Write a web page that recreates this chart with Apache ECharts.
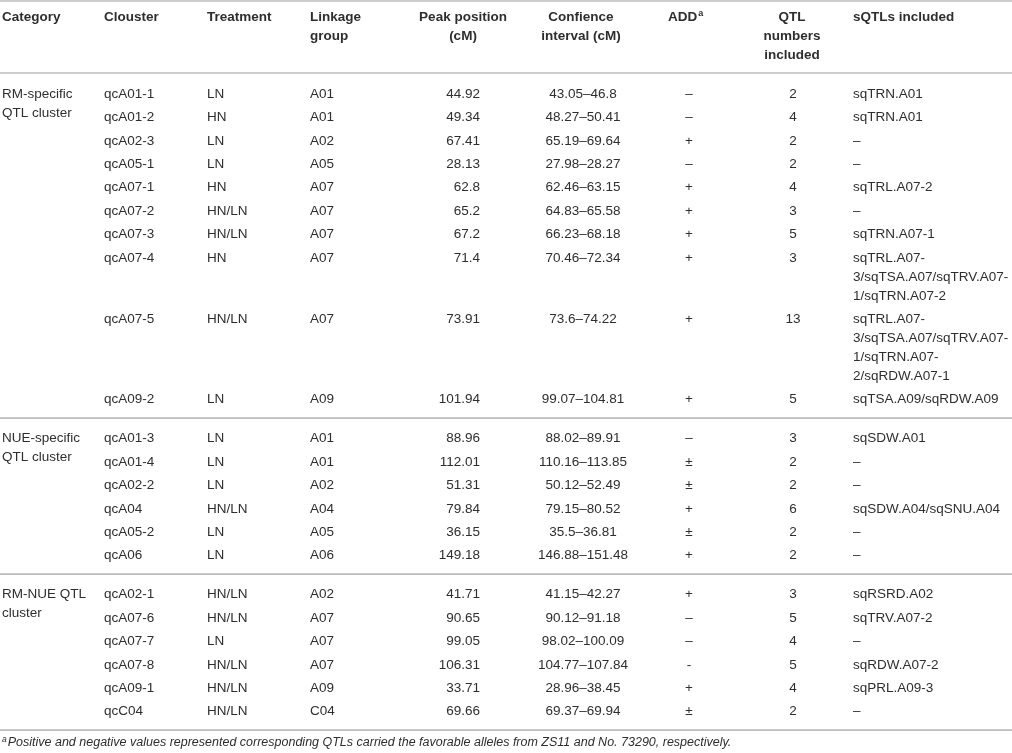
<!DOCTYPE html>
<html>
<head>
<meta charset="utf-8">
<script src="https://cdn.jsdelivr.net/npm/echarts@6/dist/echarts.min.js"></script>
<style>
  html, body { margin: 0; padding: 0; background: #fff; }
  #main { width: 1012px; height: 753px; }
</style>
</head>
<body>
<div id="main"></div>
<script>
// table content
const headers = ['Category', 'Clouster', 'Treatment', 'Linkage\ngroup', 'Peak position\n(cM)',
                 'Confience\ninterval (cM)', 'ADD', 'QTL\nnumbers\nincluded', 'sQTLs included'];
const categories = ['RM-specific\nQTL cluster', 'NUE-specific\nQTL cluster', 'RM-NUE QTL\ncluster'];
const sectionSizes = [10, 6, 6];
const clusters = ['qcA01-1', 'qcA01-2', 'qcA02-3', 'qcA05-1', 'qcA07-1', 'qcA07-2', 'qcA07-3', 'qcA07-4', 'qcA07-5', 'qcA09-2',
                  'qcA01-3', 'qcA01-4', 'qcA02-2', 'qcA04', 'qcA05-2', 'qcA06',
                  'qcA02-1', 'qcA07-6', 'qcA07-7', 'qcA07-8', 'qcA09-1', 'qcC04'];
const treatments = ['LN', 'HN', 'LN', 'LN', 'HN', 'HN/LN', 'HN/LN', 'HN', 'HN/LN', 'LN',
                    'LN', 'LN', 'LN', 'HN/LN', 'LN', 'LN',
                    'HN/LN', 'HN/LN', 'LN', 'HN/LN', 'HN/LN', 'HN/LN'];
const linkageGroups = ['A01', 'A01', 'A02', 'A05', 'A07', 'A07', 'A07', 'A07', 'A07', 'A09',
                       'A01', 'A01', 'A02', 'A04', 'A05', 'A06',
                       'A02', 'A07', 'A07', 'A07', 'A09', 'C04'];
const peakPositions = [44.92, 49.34, 67.41, 28.13, 62.8, 65.2, 67.2, 71.4, 73.91, 101.94,
                       88.96, 112.01, 51.31, 79.84, 36.15, 149.18,
                       41.71, 90.65, 99.05, 106.31, 33.71, 69.66];
const ciLow = [43.05, 48.27, 65.19, 27.98, 62.46, 64.83, 66.23, 70.46, 73.6, 99.07,
               88.02, 110.16, 50.12, 79.15, 35.5, 146.88,
               41.15, 90.12, 98.02, 104.77, 28.96, 69.37];
const ciHigh = [46.8, 50.41, 69.64, 28.27, 63.15, 65.58, 68.18, 72.34, 74.22, 104.81,
                89.91, 113.85, 52.49, 80.52, 36.81, 151.48,
                42.27, 91.18, 100.09, 107.84, 38.45, 69.94];
const addEffects = ['–', '–', '+', '–', '+', '+', '+', '+', '+', '+',
                    '–', '±', '±', '+', '±', '+',
                    '+', '–', '–', '-', '+', '±'];
const qtlNumbers = [2, 4, 2, 2, 4, 3, 5, 3, 13, 5,
                    3, 2, 2, 6, 2, 2,
                    3, 5, 4, 5, 4, 2];
const sqtls = ['sqTRN.A01', 'sqTRN.A01', '–', '–', 'sqTRL.A07-2', '–', 'sqTRN.A07-1',
               'sqTRL.A07-\n3/sqTSA.A07/sqTRV.A07-\n1/sqTRN.A07-2',
               'sqTRL.A07-\n3/sqTSA.A07/sqTRV.A07-\n1/sqTRN.A07-\n2/sqRDW.A07-1',
               'sqTSA.A09/sqRDW.A09',
               'sqSDW.A01', '–', '–', 'sqSDW.A04/sqSNU.A04', '–', '–',
               'sqRSRD.A02', 'sqTRV.A07-2', '–', 'sqRDW.A07-2', 'sqPRL.A09-3', '–'];
const footnote = 'Positive and negative values represented corresponding QTLs carried the favorable alleles from ZS11 and No. 73290, respectively.';

// layout
const W = 1012, H = 753;
const FONT = '"Liberation Sans", Arial, Helvetica, sans-serif';
const FS = 13.5;
const LINE_H = 19;
const ROW_STEP = 23.4;
const HEADER_Y = 17;
const FIRST_ROW = 94;
const columns = [
  { x: 2,   align: 'left' },    // category
  { x: 104, align: 'left' },    // cluster
  { x: 207, align: 'left' },    // treatment
  { x: 310, align: 'left' },    // linkage
  { x: 480, align: 'right', hx: 463, halign: 'center' },  // peak
  { x: 583, align: 'center', hx: 581 },                   // ci
  { x: 689, align: 'center', hx: 668, halign: 'left' },   // add
  { x: 793, align: 'center', hx: 792 },                   // qtl numbers
  { x: 853, align: 'left' }     // sqtls
];

const cells = [];
function addCell(x, firstLineY, text, align, opts) {
  const lines = text.split('\n').length;
  cells.push(Object.assign({ x: x, y: firstLineY + (lines - 1) * LINE_H / 2, text: text, align: align }, opts || {}));
}

// header
headers.forEach(function (h, c) {
  const col = columns[c];
  const x = col.hx !== undefined ? col.hx : col.x;
  const align = col.halign || col.align;
  if (h === 'ADD') {
    addCell(x, HEADER_Y, '{h|ADD}{s|a}', align, { bold: true, rich: true });
  } else {
    addCell(x, HEADER_Y, h, align, { bold: true });
  }
});

// body rows
const rules = [1, HEADER_Y + 2 * LINE_H + 18];
let y = FIRST_ROW;
let r = 0;
sectionSizes.forEach(function (n, s) {
  addCell(columns[0].x, y, categories[s], 'left');
  let last = y;
  for (let k = 0; k < n; k++, r++) {
    const vals = [null, clusters[r], treatments[r], linkageGroups[r], String(peakPositions[r]),
                  ciLow[r] + '–' + ciHigh[r], addEffects[r], String(qtlNumbers[r]), sqtls[r]];
    for (let c = 1; c < vals.length; c++) addCell(columns[c].x, y, vals[c], columns[c].align);
    const lines = sqtls[r].split('\n').length;
    last = y + (lines - 1) * LINE_H;
    y += ROW_STEP + (lines - 1) * LINE_H;
  }
  const ruleY = last + 18.5;
  rules.push(ruleY);
  y = ruleY + 20.5;
});
const bottomRule = rules[rules.length - 1];
addCell(2, bottomRule + 12.5, '{s|a}{t|' + footnote + '}', 'left', { rich: true, italic: true });

const chart = echarts.init(document.getElementById('main'), null, { renderer: 'canvas' });
chart.setOption({
  backgroundColor: '#fff',
  animation: false,
  grid: { left: 0, right: 0, top: 0, bottom: 0 },
  xAxis: { type: 'value', min: 0, max: W, show: false },
  yAxis: { type: 'value', min: 0, max: H, inverse: true, show: false },
  series: [
    {
      // horizontal rules
      type: 'custom',
      silent: true,
      clip: false,
      data: rules.map(function (v) { return [0, v]; }),
      renderItem: function (params, api) {
        const a = api.coord([0, api.value(1)]);
        const b = api.coord([W, api.value(1)]);
        return {
          type: 'line',
          shape: { x1: a[0], y1: a[1], x2: b[0], y2: b[1] },
          style: { stroke: '#bdbdbd', lineWidth: 1.6 }
        };
      }
    },
    {
      // cell texts
      type: 'custom',
      silent: true,
      clip: false,
      data: cells.map(function (c) { return [c.x, c.y]; }),
      renderItem: function (params, api) {
        const c = cells[params.dataIndex];
        const p = api.coord([api.value(0), api.value(1)]);
        const style = {
          text: c.text,
          x: 0, y: 0,
          align: c.align,
          verticalAlign: 'middle',
          fill: '#2e2e2e',
          fontFamily: FONT,
          fontSize: FS,
          fontWeight: c.bold ? 'bold' : 'normal',
          lineHeight: LINE_H
        };
        if (c.rich && c.bold) {
          style.rich = {
            h: { fontFamily: FONT, fontSize: FS, fontWeight: 'bold', fill: '#2e2e2e', lineHeight: LINE_H },
            s: { fontFamily: FONT, fontSize: 9, fontWeight: 'bold', fill: '#2e2e2e', lineHeight: LINE_H, padding: [0, 0, 7, 1] }
          };
        } else if (c.rich) {
          style.rich = {
            s: { fontFamily: FONT, fontSize: 8.5, fontStyle: 'italic', fill: '#2e2e2e', lineHeight: LINE_H, padding: [0, 1, 6, 0] },
            t: { fontFamily: FONT, fontSize: 12.5, fontStyle: 'italic', fill: '#2e2e2e', lineHeight: LINE_H }
          };
        }
        return { type: 'text', x: p[0], y: p[1], style: style };
      }
    }
  ]
});
</script>
</body>
</html>
